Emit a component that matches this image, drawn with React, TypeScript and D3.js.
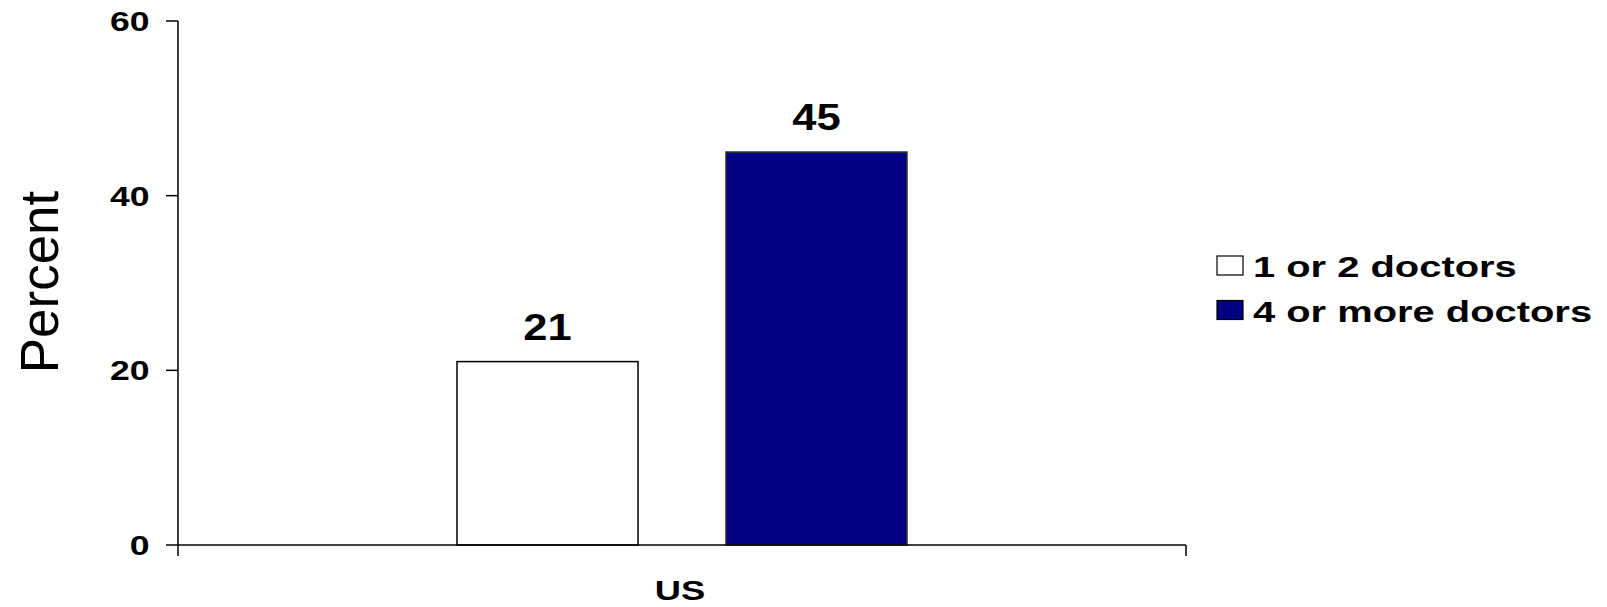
import React from "react";
import * as d3 from "d3";

const categories = ["US"];
const seriesNames = ["1 or 2 doctors", "4 or more doctors"];
const seriesValues = [[21], [45]];
const seriesColors = ["#ffffff", "#000080"];
const yTicks = [0, 20, 40, 60];

const W = 1607;
const H = 607;
const FONT = "'Liberation Sans', Arial, sans-serif";

export default function App() {
  const x0 = 178, x1 = 1186, yTop = 21, yBot = 545;
  const y = d3.scaleLinear().domain([0, 60]).range([yBot, yTop]);
  const xCat = d3.scaleBand<string>().domain(categories).range([x0, x1]).paddingInner(0).paddingOuter(0.62);
  const xSer = d3.scaleBand<string>().domain(seriesNames).range([0, xCat.bandwidth()]).paddingInner(0.327).paddingOuter(0);

  return (
    <svg width={W} height={H} style={{ position: "absolute", left: 0, top: 0, background: "#fff" }}>
      {/* bars */}
      {categories.map((c, ci) =>
        seriesNames.map((s, si) => {
          const v = seriesValues[si][ci];
          const bx = (xCat(c) as number) + (xSer(s) as number);
          const bw = xSer.bandwidth();
          return (
            <g key={c + s}>
              <rect x={bx} y={y(v)} width={bw} height={y(0) - y(v)} fill={seriesColors[si]} stroke={si === 0 ? "#000" : "#333"} strokeWidth={1.5} />
              <text transform={`translate(${bx + bw / 2},${y(v) - 22}) scale(1.21,1)`} textAnchor="middle" fontFamily={FONT} fontWeight="bold" fontSize={36} fill="#000">
                {v}
              </text>
            </g>
          );
        })
      )}
      {/* y axis */}
      <line x1={x0} x2={x0} y1={yTop} y2={yBot + 11} stroke="#000" strokeWidth={1.5} />
      {yTicks.map((t) => (
        <g key={t}>
          <line x1={x0 - 12} x2={x0} y1={y(t)} y2={y(t)} stroke="#000" strokeWidth={1.5} />
          <text transform={`translate(${149.5},${y(t) + 10}) scale(1.27,1)`} textAnchor="end" fontFamily={FONT} fontWeight="bold" fontSize={28} fill="#000">
            {t}
          </text>
        </g>
      ))}
      {/* x axis */}
      <line x1={x0} x2={x1} y1={yBot} y2={yBot} stroke="#000" strokeWidth={1.5} />
      <line x1={x1} x2={x1} y1={yBot} y2={yBot + 11} stroke="#000" strokeWidth={1.5} />
      {categories.map((c) => (
        <text key={c} transform={`translate(${(xCat(c) as number) + xCat.bandwidth() / 2 - 2},${600}) scale(1.3,1)`} textAnchor="middle" fontFamily={FONT} fontWeight="bold" fontSize={28} fill="#000">
          {c}
        </text>
      ))}
      {/* y title */}
      <text transform={`translate(58,282) rotate(-90)`} textAnchor="middle" fontFamily={FONT} fontSize={53} fill="#000">
        Percent
      </text>
      {/* legend */}
      {seriesNames.map((s, i) => (
        <g key={s}>
          <rect x={1217} y={256 + i * 44.5} width={26} height={19} fill={seriesColors[i]} stroke="#000" strokeWidth={1.2} />
          <text transform={`translate(1253,${277 + i * 44.5}) scale(${1.33},1)`} fontFamily={FONT} fontWeight="bold" fontSize={30} fill="#000">
            {s}
          </text>
        </g>
      ))}
    </svg>
  );
}
